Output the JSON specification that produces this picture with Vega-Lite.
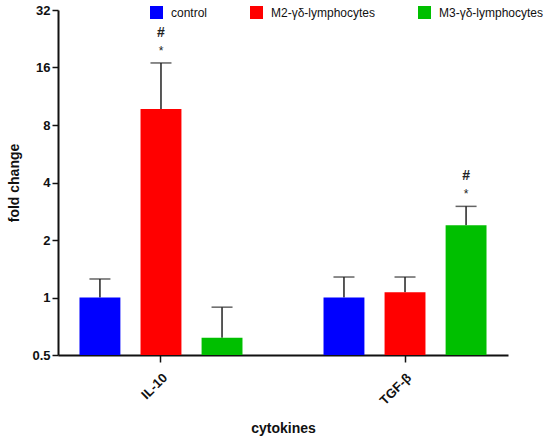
{
  "$schema": "https://vega.github.io/schema/vega-lite/v6.json",
  "width": 450,
  "height": 345,
  "autosize": {"type": "none"},
  "padding": {"left": 58, "top": 10, "right": 42, "bottom": 82},
  "background": "white",
  "data": {
    "values": [
      {"cytokine": "IL-10", "group": "control", "mean": 1.0, "upper": 1.25, "star": "", "hash": ""},
      {"cytokine": "IL-10", "group": "M2-γδ-lymphocytes", "mean": 9.7, "upper": 16.9, "star": "*", "hash": "#"},
      {"cytokine": "IL-10", "group": "M3-γδ-lymphocytes", "mean": 0.615, "upper": 0.89, "star": "", "hash": ""},
      {"cytokine": "TGF-β", "group": "control", "mean": 1.0, "upper": 1.28, "star": "", "hash": ""},
      {"cytokine": "TGF-β", "group": "M2-γδ-lymphocytes", "mean": 1.066, "upper": 1.28, "star": "", "hash": ""},
      {"cytokine": "TGF-β", "group": "M3-γδ-lymphocytes", "mean": 2.39, "upper": 3.0, "star": "*", "hash": "#"}
    ]
  },
  "encoding": {
    "x": {
      "field": "cytokine",
      "type": "nominal",
      "scale": {"paddingInner": 0.25, "paddingOuter": 0.047},
      "axis": {
        "title": "cytokines",
        "labelAngle": -45,
        "labelFontWeight": "bold",
        "labelFontSize": 13,
        "labelPadding": 9,
        "titlePadding": 14,
        "tickSize": 7
      }
    },
    "xOffset": {
      "field": "group",
      "type": "nominal",
      "sort": ["control", "M2-γδ-lymphocytes", "M3-γδ-lymphocytes"],
      "scale": {"paddingInner": 0.33, "paddingOuter": 0.164}
    }
  },
  "layer": [
    {
      "mark": {"type": "rule", "color": "#222222", "strokeWidth": 1.5},
      "encoding": {
        "y": {"field": "mean", "type": "quantitative"},
        "y2": {"field": "upper"}
      }
    },
    {
      "mark": {"type": "tick", "color": "#222222", "thickness": 1.5, "size": 21},
      "encoding": {
        "y": {"field": "upper", "type": "quantitative"}
      }
    },
    {
      "mark": {"type": "bar"},
      "encoding": {
        "y": {
          "field": "mean",
          "type": "quantitative",
          "scale": {"type": "log", "base": 2, "domain": [0.5, 32], "nice": false},
          "axis": {
            "title": "fold change",
            "values": [0.5, 1, 2, 4, 8, 16, 32],
            "format": "~g",
            "labelFontWeight": "bold",
            "labelFontSize": 13,
            "labelPadding": 2,
            "tickSize": 6,
            "titlePadding": 10
          }
        },
        "y2": {"datum": 0.5},
        "color": {
          "field": "group",
          "type": "nominal",
          "sort": ["control", "M2-γδ-lymphocytes", "M3-γδ-lymphocytes"],
          "scale": {"range": ["#0000ff", "#ff0000", "#00bf00"]},
          "legend": {
            "title": null,
            "orient": "none",
            "direction": "horizontal",
            "legendX": 92,
            "legendY": -4,
            "symbolType": "square",
            "symbolSize": 169,
            "symbolStrokeWidth": 0,
            "symbolOpacity": 1,
            "labelFontSize": 12,
            "labelFont": "Liberation Sans",
            "labelColor": "#111111",
            "labelOffset": 8,
            "columnPadding": 42,
            "padding": 0
          }
        }
      }
    },
    {
      "mark": {"type": "text", "dy": -12, "fontSize": 12, "font": "Liberation Sans", "color": "#222222"},
      "encoding": {
        "y": {"field": "upper", "type": "quantitative"},
        "text": {"field": "star"}
      }
    },
    {
      "mark": {"type": "text", "dy": -30, "fontSize": 14, "fontWeight": "bold", "font": "Liberation Sans", "color": "#222222"},
      "encoding": {
        "y": {"field": "upper", "type": "quantitative"},
        "text": {"field": "hash"}
      }
    }
  ],
  "config": {
    "font": "Liberation Sans",
    "view": {"stroke": null},
    "axis": {
      "grid": false,
      "domainColor": "#111111",
      "domainWidth": 2,
      "tickColor": "#111111",
      "tickWidth": 1.5,
      "labelColor": "#111111",
      "titleColor": "#111111",
      "titleFontSize": 14,
      "titleFontWeight": "bold",
      "labelFont": "Liberation Sans",
      "titleFont": "Liberation Sans"
    }
  }
}
